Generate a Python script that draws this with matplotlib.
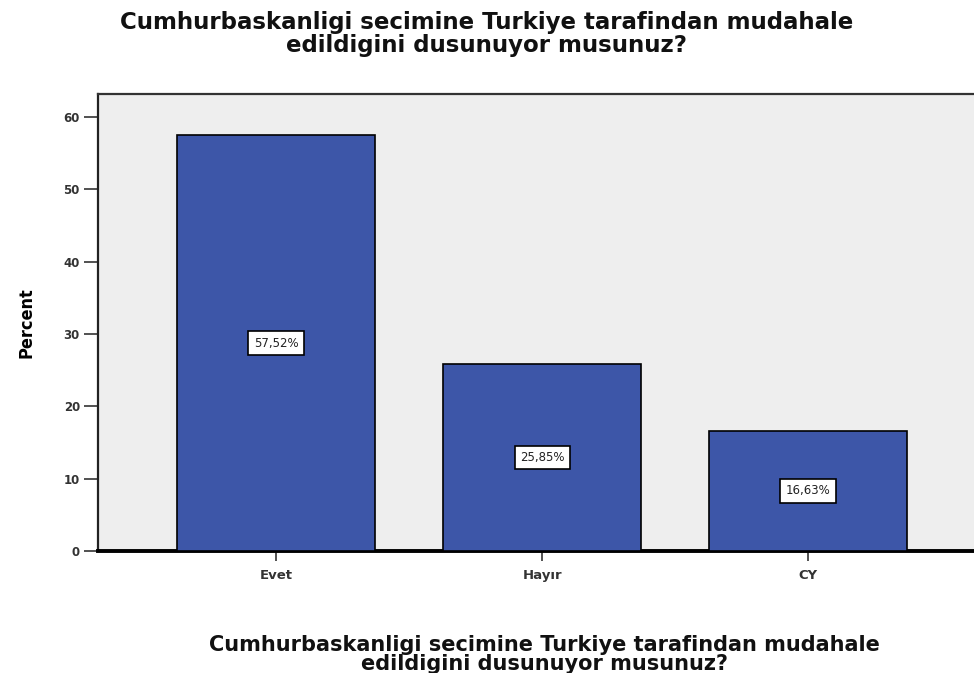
import numpy as np
import matplotlib
matplotlib.use("Agg")
import matplotlib.pyplot as plt

# Survey answers and their share (percent)
categories = ["Evet", "Hayır", "CY"]
percents = [57.52, 25.85, 16.63]
value_labels = ["57,52%", "25,85%", "16,63%"]
yticks = [0, 10, 20, 30, 40, 50, 60]

question = ("Cumhurbaskanligi secimine Turkiye tarafindan mudahale\n"
            "edildigini dusunuyor musunuz?")

BAR_COLOR = "#3D56A8"
BG_COLOR = "#EEEEEE"

fig = plt.figure(figsize=(9.74, 6.73), dpi=100)
ax = fig.add_axes([0.1006, 0.1813, 0.916, 0.679])
ax.set_facecolor(BG_COLOR)

x = np.arange(len(categories))
bars = ax.bar(x, percents, width=0.745, color=BAR_COLOR,
              edgecolor="black", linewidth=1.2, zorder=3)

# value boxes in the middle of each bar
for bar, lab in zip(bars, value_labels):
    ax.text(bar.get_x() + bar.get_width() / 2, bar.get_height() / 2, lab,
            ha="center", va="center", fontsize=8.5, color="#222222",
            zorder=4,
            bbox=dict(boxstyle="square,pad=0.45", facecolor="white",
                      edgecolor="black", linewidth=1.2))

ax.set_xlim(-0.669, 2.684)
ax.set_ylim(0, 63.2)
ax.set_xticks(x)
ax.set_xticklabels(categories)
ax.set_yticks(yticks)

ax.tick_params(axis="y", direction="out", length=10, width=1.2,
               labelsize=8.5, colors="#333333", pad=3)
ax.tick_params(axis="x", direction="out", length=7, width=1.2,
               labelsize=9.5, colors="#333333", pad=6)
for lab in ax.get_xticklabels() + ax.get_yticklabels():
    lab.set_fontweight("bold")
    lab.set_color("#333333")

ax.spines["bottom"].set_linewidth(2.8)
ax.spines["bottom"].set_color("black")
ax.spines["left"].set_linewidth(1.6)
ax.spines["left"].set_color("#222222")
ax.spines["top"].set_linewidth(1.6)
ax.spines["top"].set_color("#333333")
ax.spines["right"].set_visible(False)

ax.set_ylabel("Percent", fontsize=13, fontweight="bold",
              fontstretch="condensed", labelpad=20)
ax.set_xlabel(question, fontsize=15, fontweight="bold", color="#111111",
              linespacing=0.95, labelpad=38)

fig.suptitle(question, x=0.5, y=0.983, fontsize=16.5, fontweight="bold",
             color="#111111", linespacing=1.0, va="top")

plt.savefig("out.png", dpi=100)
